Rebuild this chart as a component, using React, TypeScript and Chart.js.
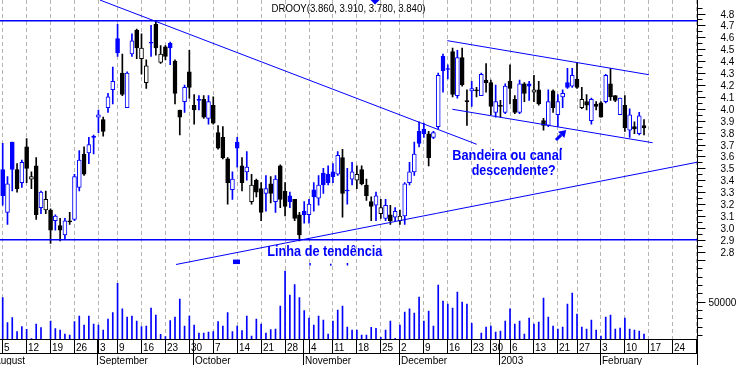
import React, { useEffect, useRef } from "react";
import { Chart, registerables } from "chart.js";

Chart.register(...registerables);

const FONT = '"Liberation Sans", Arial, Helvetica, sans-serif';
const BLUE = "#0000ff";
const BLACK = "#000000";

// ---- trading-day data (index 0 = Aug 5 2002 ... 134 = Feb 14 2003) ----
const opens = [
  3.49, 3.13, 3.72, 3.49, 3.38, 3.68, 3.41, 3.52, 3.17, 3.15,
  3.15, 3.06, 3.02, 2.94, 3.05, 3.07, 3.34, 3.62, 3.63, 3.76,
  3.93, 3.91, 4.01, 4.16, 4.59, 4.30, 4.01, 4.46, 4.66, 4.42,
  4.22, 4.55, 4.71, 4.39, 4.52, 4.55, 4.40, 3.99, 4.06, 4.31,
  4.03, 4.07, 4.08, 3.92, 4.03, 3.80, 3.76, 3.58, 3.32, 3.72,
  3.52, 3.47, 3.22, 3.40, 3.33, 3.29, 3.37, 3.22, 3.52, 3.31,
  3.27, 3.24, 3.11, 3.14, 3.11, 3.32, 3.25, 3.46, 3.45, 3.47,
  3.45, 3.59, 3.31, 3.41, 3.40, 3.49, 3.36, 3.22, 3.19, 3.12,
  3.08, 3.11, 3.09, 3.06, 3.10, 3.38, 3.47, 3.81, 3.83, 3.79,
  3.76, 3.85, 4.44, 4.33, 4.48, 4.11, 4.43, 4.06, 4.15, 4.15,
  4.11, 4.24, 4.22, 3.97, 4.02, 3.97, 4.23, 4.08, 3.97, 4.21,
  4.21, 4.14, 4.16, 3.90, 3.86, 4.15, 3.95, 4.10, 4.22, 4.19,
  4.25, 4.01, 4.06, 3.90, 4.04, 4.05, 4.06, 4.21, 4.11, 3.95,
  4.03, 3.82, 3.85, 3.79, 3.86,
];
const highs = [
  3.71, 3.43, 3.72, 3.54, 3.57, 3.75, 3.47, 3.59, 3.31, 3.31,
  3.16, 3.11, 3.08, 3.08, 3.13, 3.45, 3.65, 3.68, 3.76, 3.78,
  3.99, 3.93, 4.13, 4.35, 4.71, 4.46, 4.31, 4.63, 4.67, 4.63,
  4.41, 4.70, 4.74, 4.53, 4.53, 4.56, 4.41, 3.99, 4.20, 4.49,
  4.12, 4.11, 4.11, 4.11, 4.10, 3.86, 3.85, 3.59, 3.47, 3.76,
  3.59, 3.64, 3.45, 3.41, 3.38, 3.44, 3.43, 3.44, 3.53, 3.38,
  3.30, 3.24, 3.13, 3.22, 3.24, 3.38, 3.44, 3.50, 3.52, 3.54,
  3.64, 3.66, 3.50, 3.55, 3.52, 3.52, 3.41, 3.26, 3.30, 3.24,
  3.24, 3.19, 3.17, 3.15, 3.38, 3.55, 3.72, 3.89, 3.88, 3.81,
  3.81, 4.30, 4.46, 4.37, 4.51, 4.49, 4.51, 4.16, 4.23, 4.18,
  4.30, 4.38, 4.24, 4.20, 4.07, 4.21, 4.37, 4.11, 4.24, 4.22,
  4.23, 4.28, 4.23, 3.92, 4.16, 4.16, 4.12, 4.16, 4.34, 4.34,
  4.39, 4.18, 4.12, 4.09, 4.06, 4.06, 4.29, 4.34, 4.11, 4.09,
  4.11, 4.00, 3.89, 3.97, 3.91,
];
const lows = [
  3.19, 3.03, 3.31, 3.30, 3.34, 3.38, 3.33, 3.07, 3.12, 3.12,
  2.87, 2.98, 2.89, 2.90, 3.03, 3.06, 3.31, 3.44, 3.54, 3.62,
  3.80, 3.77, 3.97, 4.04, 4.44, 4.11, 4.01, 4.44, 4.42, 4.29,
  4.17, 4.44, 4.45, 4.38, 4.41, 4.37, 4.04, 3.78, 3.97, 4.09,
  3.87, 3.99, 3.92, 3.87, 3.87, 3.66, 3.58, 3.20, 3.24, 3.51,
  3.31, 3.40, 3.20, 3.26, 3.06, 3.14, 3.21, 3.13, 3.17, 3.10,
  3.17, 3.06, 2.89, 3.04, 3.04, 3.14, 3.19, 3.29, 3.36, 3.38,
  3.44, 3.09, 3.20, 3.36, 3.33, 3.36, 3.23, 3.06, 3.06, 3.08,
  3.06, 3.03, 3.06, 3.03, 3.03, 3.36, 3.44, 3.68, 3.76, 3.52,
  3.75, 3.83, 4.14, 4.25, 4.10, 4.09, 4.19, 3.86, 4.02, 4.10,
  4.11, 4.14, 3.95, 3.93, 3.93, 3.96, 4.04, 3.96, 3.96, 4.06,
  4.07, 4.06, 4.03, 3.82, 3.85, 3.97, 3.85, 4.01, 4.17, 4.18,
  4.17, 4.00, 3.99, 3.87, 3.99, 3.93, 4.05, 4.07, 4.06, 3.95,
  3.81, 3.76, 3.79, 3.78, 3.78,
];
const closes = [
  3.27, 3.37, 3.49, 3.33, 3.55, 3.50, 3.43, 3.11, 3.30, 3.24,
  2.98, 3.10, 2.98, 3.06, 3.05, 3.43, 3.57, 3.45, 3.70, 3.76,
  3.95, 3.81, 4.10, 4.23, 4.47, 4.12, 4.30, 4.57, 4.51, 4.51,
  4.36, 4.55, 4.51, 4.46, 4.44, 4.51, 4.13, 3.93, 4.18, 4.18,
  3.99, 4.07, 3.93, 4.06, 3.88, 3.67, 3.59, 3.38, 3.41, 3.67,
  3.38, 3.51, 3.36, 3.30, 3.13, 3.33, 3.29, 3.41, 3.24, 3.18,
  3.22, 3.08, 2.94, 3.11, 3.20, 3.26, 3.36, 3.36, 3.38, 3.43,
  3.61, 3.29, 3.31, 3.47, 3.45, 3.37, 3.27, 3.18, 3.27, 3.17,
  3.19, 3.06, 3.14, 3.10, 3.37, 3.47, 3.62, 3.71, 3.79, 3.59,
  3.80, 4.28, 4.32, 4.33, 4.12, 4.43, 4.20, 4.06, 4.17, 4.15,
  4.29, 4.22, 4.02, 4.06, 4.02, 4.19, 4.17, 3.97, 4.21, 4.13,
  4.19, 4.16, 4.04, 3.86, 4.06, 4.01, 4.06, 4.13, 4.18, 4.28,
  4.18, 4.08, 4.03, 4.08, 4.02, 3.93, 4.28, 4.10, 4.07, 4.09,
  3.84, 3.95, 3.83, 3.94, 3.84,
];
// b = blue candle, k = black candle
const candleColors = (
  "bbbkbkkkbk" + "kbkbkbbkbb" + "bkbbbkbbkk" + "kbkkkbkkbk" + "kbkbkkkkbb" +
  "kbkkkbkbkk" + "bkkbbbbbbb" + "bkbbkkkkbk" + "bkbkbbbbbk" + "bbbbkbkkbk" +
  "bkkbkbkkbk" + "bkkkbkbbbb" + "kkkbkkbkkb" + "kbkbk"
).split("");
const volumes = [
  54800, 24900, 30900, 14100, 20100, 16900, 5700, 23300, 18900, 0,
  26900, 17700, 16100, 11300, 10100, 26100, 32900, 22100, 32900, 23300,
  22100, 16100, 29300, 36900, 72000, 41300, 31700, 32900, 26900, 20100,
  20900, 42400, 34100, 10900, 8100, 27300, 31700, 53200, 20900, 32900,
  22100, 12500, 12500, 13700, 14100, 26100, 20900, 36900, 14100, 20900,
  15300, 32900, 8900, 29300, 23300, 12500, 16500, 17300, 44800, 86800,
  58000, 70400, 54800, 39300, 30500, 22100, 32900, 28100, 11300, 26900,
  40100, 44800, 19700, 16100, 16100, 10100, 10000, 19300, 18100, 7300,
  16100, 26900, 6000, 22100, 37700, 41300, 36500, 55600, 26900, 38900,
  20900, 70000, 50800, 47200, 42400, 61600, 49600, 47200, 24100, 5000,
  12500, 19700, 20900, 13700, 14900, 26900, 41300, 23300, 26900, 11300,
  30500, 23300, 25700, 54400, 31700, 20900, 17300, 19700, 47200, 60400,
  35300, 19700, 17300, 28100, 16100, 8900, 31700, 34100, 17300, 18500,
  30500, 17300, 16100, 14900, 11300,
];

// ---- x axis labelling ----
const weekStarts = [0, 5, 10, 15, 20, 24, 29, 34, 39, 44, 49, 54, 59, 64, 69, 74, 79, 83, 88, 93, 98, 102, 106, 111, 116, 120, 125, 130, 135, 140, 145];
const weekLabels = ["5", "12", "19", "26", "3", "9", "16", "23", "30", "7", "14", "21", "28", "4", "11", "18", "25", "2", "9", "16", "23", "30", "6", "13", "21", "27", "3", "10", "17", "24"];
const monthStarts = [-2, 20, 40, 63, 83, 104, 125];
const monthLabels = ["August", "September", "October", "November", "December", "2003", "February"];

// ---- y axis labelling ----
const priceTicks = [2.8, 2.9, 3.0, 3.1, 3.2, 3.3, 3.4, 3.5, 3.6, 3.7, 3.8, 3.9, 4.0, 4.1, 4.2, 4.3, 4.4, 4.5, 4.6, 4.7, 4.8];
const priceTickLabels = ["2.8", "2.9", "3.0", "3.1", "3.2", "3.3", "3.4", "3.5", "3.6", "3.7", "3.8", "3.9", "4.0", "4.1", "4.2", "4.3", "4.4", "4.5", "4.6", "4.7", "4.8"];
const volumeTicks = [10000, 20000, 30000, 40000, 50000, 60000, 70000, 80000, 90000, 100000];
const volumeLabelled = [50000];

// ---- scale ranges ----
const X_MIN = -0.564;
const X_MAX = 145.07;
const PRICE_MIN = 2.0628;
const PRICE_MAX = 4.9134;
const VOL_MIN = 4676;
const VOL_MAX = 411737;

// ---- drawn annotations (data coordinates) ----
const topLevel = 4.74;
const bottomLevel = 2.9;
const resistanceLine = [{ x: 20.33, y: 4.913 }, { x: 99.04, y: 3.702 }];
const supportLine = [{ x: 36.21, y: 2.6925 }, { x: 145.07, y: 3.551 }];
const channelTop = [{ x: 92.9, y: 4.572 }, { x: 135.04, y: 4.286 }];
const channelBottom = [{ x: 93.94, y: 3.996 }, { x: 135.8, y: 3.715 }];
const textNotes = [
  { text: "Bandeira ou canal", x: 93.94, y: 3.574, maxW: 110 },
  { text: "descendente?", x: 98.0, y: 3.444, maxW: 84 },
  { text: "Linha de tendência", x: 55.29, y: 2.764, maxW: 115 },
];
const arrowFrom = { x: 115.6, y: 3.738 };
const arrowTo = { x: 117.75, y: 3.822 };
const smallMarks = [
  { x: 48.12, y: 2.734, w: 7, h: 4.5 },
  { x: 64.06, y: 2.705, w: 1.5, h: 2.5 },
  { x: 68.39, y: 2.699, w: 1.5, h: 2 },
  { x: 71.88, y: 2.705, w: 1.5, h: 2.5 },
  { x: 116.45, y: 3.672, w: 2, h: 1.5 },
];
const cursorIndex = 77.8;

const last = closes.length - 1;
const titleText = `DROOY(${opens[last].toFixed(3)}, ${highs[last].toFixed(3)}, ${lows[last].toFixed(3)}, ${closes[last].toFixed(3)})`;

const idx = opens.map((_, i) => i);
const colorOf = (i: number) => (candleColors[i] === "b" ? BLUE : BLACK);

const decorPlugin = {
  id: "decor",
  beforeDatasetsDraw(chart: any) {
    const { ctx, chartArea: ca, scales } = chart;
    const x = scales.x;
    ctx.save();
    ctx.strokeStyle = "#b4b4b4";
    ctx.lineWidth = 1;
    ctx.setLineDash([4, 3]);
    weekStarts.forEach((i) => {
      const px = Math.floor(x.getPixelForValue(i)) + 0.5;
      if (px < ca.left || px > ca.right) return;
      ctx.beginPath();
      ctx.moveTo(px, ca.top);
      ctx.lineTo(px, ca.bottom);
      ctx.stroke();
    });
    ctx.restore();
  },
  afterDatasetsDraw(chart: any) {
    const { ctx, scales } = chart;
    const x = scales.x;
    const y = scales.y;
    ctx.save();
    // text notes
    ctx.fillStyle = BLUE;
    ctx.font = `bold 14px ${FONT}`;
    ctx.textBaseline = "alphabetic";
    ctx.textAlign = "left";
    textNotes.forEach((n) => {
      ctx.fillText(n.text, x.getPixelForValue(n.x), y.getPixelForValue(n.y), n.maxW);
    });
    // arrow
    const p0 = { x: x.getPixelForValue(arrowFrom.x), y: y.getPixelForValue(arrowFrom.y) };
    const p1 = { x: x.getPixelForValue(arrowTo.x), y: y.getPixelForValue(arrowTo.y) };
    const ang = Math.atan2(p1.y - p0.y, p1.x - p0.x);
    const hl = 7;
    const hw = 4.5;
    const bx = p1.x - hl * Math.cos(ang);
    const by = p1.y - hl * Math.sin(ang);
    ctx.strokeStyle = BLUE;
    ctx.lineWidth = 3;
    ctx.beginPath();
    ctx.moveTo(p0.x, p0.y);
    ctx.lineTo(bx, by);
    ctx.stroke();
    ctx.beginPath();
    ctx.moveTo(p1.x, p1.y);
    ctx.lineTo(bx + hw * Math.sin(ang), by - hw * Math.cos(ang));
    ctx.lineTo(bx - hw * Math.sin(ang), by + hw * Math.cos(ang));
    ctx.closePath();
    ctx.fill();
    // small marks
    smallMarks.forEach((m) => {
      ctx.fillRect(x.getPixelForValue(m.x), y.getPixelForValue(m.y), m.w, m.h);
    });
    ctx.restore();
  },
  afterDraw(chart: any) {
    const { ctx, chartArea: ca, scales, width, height } = chart;
    const x = scales.x;
    const y = scales.y;
    const yv = scales.yVol;
    ctx.save();
    ctx.strokeStyle = BLACK;
    ctx.fillStyle = BLACK;
    ctx.lineWidth = 1;
    ctx.setLineDash([]);

    // title + cursor marker
    ctx.font = `10px ${FONT}`;
    ctx.textAlign = "center";
    ctx.textBaseline = "alphabetic";
    ctx.fillText(titleText, 348.5, 12, 154);
    const cx = x.getPixelForValue(cursorIndex);
    ctx.fillStyle = BLUE;
    ctx.beginPath();
    ctx.moveTo(cx - 4.5, 0);
    ctx.lineTo(cx + 4.5, 0);
    ctx.lineTo(cx, 4.5);
    ctx.closePath();
    ctx.fill();
    ctx.fillStyle = BLACK;

    // right axis line
    const ax = Math.floor(ca.right) + 0.5;
    ctx.beginPath();
    ctx.moveTo(ax, 0);
    ctx.lineTo(ax, height);
    ctx.stroke();

    // price ticks
    ctx.font = `10px ${FONT}`;
    ctx.textAlign = "left";
    ctx.textBaseline = "middle";
    priceTicks.forEach((v, k) => {
      const py = Math.round(y.getPixelForValue(v)) + 0.5;
      ctx.beginPath();
      ctx.moveTo(ax, py);
      ctx.lineTo(ax + 8, py);
      ctx.stroke();
      ctx.fillText(priceTickLabels[k], ax + 23, py + 0.5);
      const mid = v + 0.05;
      if (mid < 4.86) {
        const my = Math.round(y.getPixelForValue(mid)) + 0.5;
        ctx.beginPath();
        ctx.moveTo(ax, my);
        ctx.lineTo(ax + 5, my);
        ctx.stroke();
      }
    });
    // volume ticks
    volumeTicks.forEach((v) => {
      const py = Math.round(yv.getPixelForValue(v)) + 0.5;
      const major = v % 50000 === 0;
      ctx.beginPath();
      ctx.moveTo(ax, py);
      ctx.lineTo(ax + (major ? 8 : 5), py);
      ctx.stroke();
      if (volumeLabelled.includes(v)) ctx.fillText(String(v), ax + 11, py + 0.5);
    });

    // date rows
    const r1 = Math.floor(ca.bottom) + 0.5;
    const r2 = r1 + 14;
    ctx.beginPath();
    ctx.moveTo(0, r1);
    ctx.lineTo(ax, r1);
    ctx.moveTo(0, r2);
    ctx.lineTo(ax, r2);
    ctx.stroke();
    ctx.textBaseline = "alphabetic";
    ctx.textAlign = "left";
    weekStarts.forEach((i, k) => {
      const px = Math.floor(x.getPixelForValue(i)) + 0.5;
      if (px > ax) return;
      ctx.beginPath();
      ctx.moveTo(px, r1);
      ctx.lineTo(px, r2);
      ctx.stroke();
      if (weekLabels[k]) ctx.fillText(weekLabels[k], px + 1.5, r1 + 11.5);
    });
    monthStarts.forEach((i, k) => {
      const px = Math.floor(x.getPixelForValue(i - 0.1)) + 0.5;
      ctx.beginPath();
      ctx.moveTo(px, r1);
      ctx.lineTo(px, height);
      ctx.stroke();
      ctx.fillText(monthLabels[k], px + 1.5, r2 + 10.5);
    });
    ctx.restore();
  },
};

export default function App() {
  const ref = useRef<HTMLCanvasElement>(null);
  useEffect(() => {
    document.body.style.margin = "0";
    const canvas = ref.current;
    if (!canvas) return;
    const levelLine = (v: number) => [{ x: X_MIN, y: v }, { x: X_MAX, y: v }];
    const lineDs = (data: any[], w: number) => ({
      type: "line" as const,
      data,
      borderColor: BLUE,
      borderWidth: w,
      pointRadius: 0,
      fill: false,
      tension: 0,
      yAxisID: "y",
      order: 0,
    });
    const chart = new Chart(canvas, {
      type: "bar",
      data: {
        datasets: [
          {
            type: "bar",
            data: idx.map((i) => ({ x: i, y: volumes[i] })),
            backgroundColor: BLUE,
            barThickness: 1,
            grouped: false,
            yAxisID: "yVol",
            order: 4,
          } as any,
          {
            type: "bar",
            data: idx.map((i) => ({ x: i, y: [lows[i], highs[i]] })),
            backgroundColor: idx.map(colorOf),
            barThickness: 1,
            grouped: false,
            yAxisID: "y",
            order: 3,
          } as any,
          {
            type: "bar",
            data: idx.map((i) => ({ x: i, y: [Math.min(opens[i], closes[i]), Math.max(opens[i], closes[i])] })),
            backgroundColor: idx.map((i) => (closes[i] > opens[i] ? "#ffffff" : colorOf(i))),
            borderColor: idx.map(colorOf),
            borderWidth: 1,
            borderSkipped: false,
            barThickness: 4,
            minBarLength: 1,
            grouped: false,
            yAxisID: "y",
            order: 2,
          } as any,
          lineDs(levelLine(topLevel), 1.5) as any,
          lineDs(levelLine(bottomLevel), 1.5) as any,
          lineDs(resistanceLine, 1) as any,
          lineDs(supportLine, 1) as any,
          lineDs(channelTop, 1) as any,
          lineDs(channelBottom, 1) as any,
        ],
      },
      options: {
        responsive: false,
        maintainAspectRatio: false,
        animation: false,
        devicePixelRatio: 1,
        events: [],
        layout: { padding: { left: 0, top: 0, right: 41, bottom: 25.5 } },
        plugins: { legend: { display: false }, tooltip: { enabled: false }, title: { display: false } },
        scales: {
          x: { type: "linear", min: X_MIN, max: X_MAX, offset: false, display: false, grid: { offset: false } },
          y: { type: "linear", min: PRICE_MIN, max: PRICE_MAX, display: false },
          yVol: { type: "linear", min: VOL_MIN, max: VOL_MAX, display: false },
        },
      } as any,
      plugins: [decorPlugin],
    });
    return () => chart.destroy();
  }, []);
  return <canvas ref={ref} width={738} height={365} style={{ display: "block", width: 738, height: 365 }} />;
}
